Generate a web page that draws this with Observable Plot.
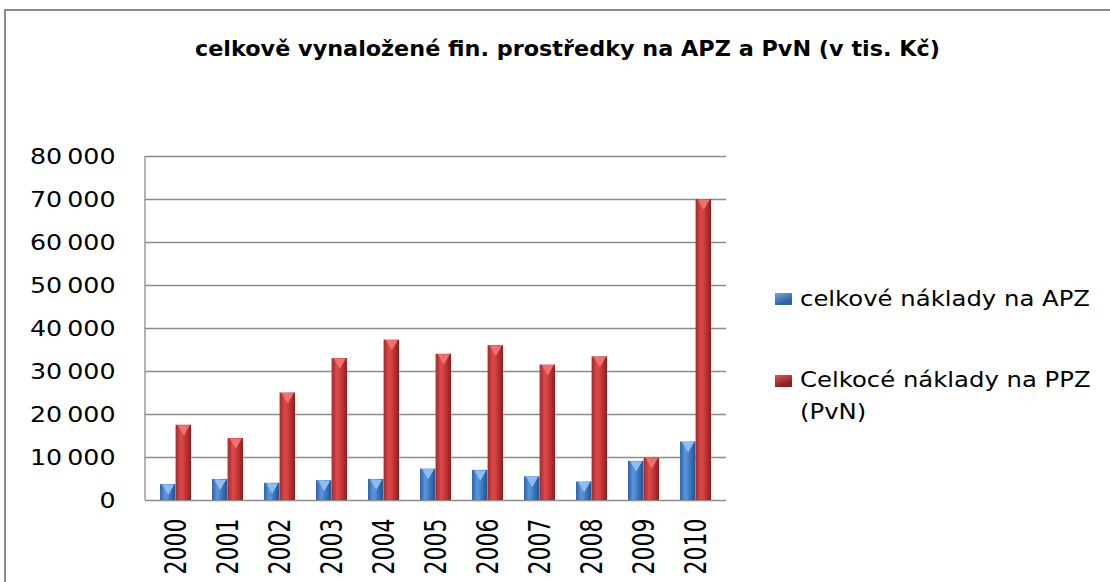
<!DOCTYPE html>
<html><head><meta charset="utf-8">
<script src="https://cdn.jsdelivr.net/npm/d3@7"></script>
<script src="https://cdn.jsdelivr.net/npm/@observablehq/plot@0.6"></script>
<style>
body{margin:0;background:#fff;}
#wrap{position:relative;width:1110px;height:582px;overflow:hidden;font-family:"DejaVu Sans",sans-serif;background:#fff;}
#frame{position:absolute;left:4px;top:9px;width:1200px;height:700px;border-left:2px solid #8a8a8a;border-top:2px solid #8a8a8a;box-sizing:border-box;}
#title{position:absolute;top:38px;left:195px;transform-origin:0 0;white-space:nowrap;font-family:"DejaVu Sans",sans-serif;font-weight:bold;font-size:22px;line-height:22px;color:#000;}
#chart{position:absolute;left:0;top:0;}
.sw{position:absolute;width:17px;height:12px;left:775px;}
.lt{position:absolute;left:800px;white-space:nowrap;font-size:22px;line-height:32px;color:#000;transform-origin:0 0;}
</style></head>
<body>
<div id="wrap">
  <div id="frame"></div>
  <div id="chart"></div>
  <div id="title">celkově vynaložené fin. prostředky na APZ a PvN (v tis. Kč)</div>
  <div id="legend"></div>
</div>
<script>
const years = ["2000","2001","2002","2003","2004","2005","2006","2007","2008","2009","2010"];
const apz = [3700, 4900, 4000, 4600, 4900, 7300, 7000, 5500, 4300, 9100, 13600];
const ppz = [17500, 14400, 25000, 33000, 37300, 34000, 36000, 31500, 33400, 9800, 70000];
const seriesNames = ["celkové náklady na APZ", "Celkocé náklady na PPZ\n(PvN)"];
const yTicks = [0, 10000, 20000, 30000, 40000, 50000, 60000, 70000, 80000];

const apzData = years.map((y, i) => ({year: y, value: apz[i]}));
const ppzData = years.map((y, i) => ({year: y, value: ppz[i]}));

const fmt = v => d3.format(",")(v).replace(/,/g, "\u202F");

const defs = () => {
  const s = d3.create("svg:defs");
  const mk = (id, stops) => {
    const g = s.append("linearGradient").attr("id", id).attr("x1", "0").attr("x2", "1").attr("y1", "0").attr("y2", "0");
    stops.forEach(([o, c]) => g.append("stop").attr("offset", o).attr("stop-color", c));
  };
  mk("gBlue", [[0, "#2f63a8"], [0.35, "#5b98dc"], [0.6, "#3f7cc6"], [1, "#24508c"]]);
  mk("gRed", [[0, "#a52828"], [0.35, "#de4a4a"], [0.6, "#c93838"], [1, "#8c1f1f"]]);
  return s.node();
};

const axisLine = (index, scales, values, dims) => {
  const s = d3.create("svg:line")
    .attr("x1", dims.marginLeft).attr("x2", dims.marginLeft)
    .attr("y1", scales.y(yTicks[yTicks.length - 1])).attr("y2", scales.y(0))
    .attr("stroke", "#8c8c8c").attr("stroke-width", 1.3);
  return s.node();
};

const chart = Plot.plot({
  width: 1110, height: 582,
  marginLeft: 145, marginRight: 384, marginTop: 156, marginBottom: 82,
  style: {fontFamily: "DejaVu Sans", fontSize: "22px", color: "#000", background: "transparent", overflow: "visible"},
  x: {domain: years, paddingInner: 0.41, paddingOuter: 0.205, label: null},
  y: {domain: [0, 80000], label: null},
  marks: [
    defs,
    Plot.gridY(yTicks, {stroke: "#8c8c8c", strokeOpacity: 1, strokeWidth: 1.3}),
    axisLine,
    Plot.barY(apzData, {x: "year", y: "value", fill: "url(#gBlue)", insetRight: 15.6}),
    Plot.barY(ppzData, {x: "year", y: "value", fill: "url(#gRed)", insetLeft: 15.6}),
    Plot.dot(apzData, {x: "year", y: "value", symbol: "triangle", rotate: 180, r: 4.5, fill: "#8cbcf0", dx: -7.8, dy: 3.5}),
    Plot.dot(ppzData, {x: "year", y: "value", symbol: "triangle", rotate: 180, r: 4.5, fill: "#f07070", dx: 7.8, dy: 3.5}),
    Plot.axisY(yTicks, {tickSize: 0, tickPadding: 30, tickFormat: fmt, fontSize: 22}),
    Plot.axisX({tickSize: 0, tickPadding: 18, tickRotate: -90, fontSize: 22})
  ]
});
document.getElementById("chart").appendChild(chart);

// horizontal stretch of the text, as in the reference
d3.select(chart).selectAll('g[aria-label="x-axis tick label"] text').each(function () {
  const t = this.getAttribute("transform");
  if (t && t.includes("translate")) this.setAttribute("transform", t + " scale(1,1.35)");
});
d3.select(chart).selectAll('g[aria-label="y-axis tick label"] text').each(function () {
  const t = this.getAttribute("transform");
  if (t && t.includes("translate")) this.setAttribute("transform", t + " scale(1.15,1)");
});

const title = document.getElementById("title");
const tw = title.getBoundingClientRect().width;
title.style.transform = `scaleX(${745 / tw})`;

const legend = document.getElementById("legend");
const swTops = [293, 375];
const txtTops = [283, 364];
const grads = ["linear-gradient(160deg,#6ea6e6,#2f63a8 70%)", "linear-gradient(160deg,#e05a5a,#8c1f1f 70%)"];
let legScale = null;
seriesNames.forEach((name, i) => {
  const sw = document.createElement("div");
  sw.className = "sw";
  sw.style.top = swTops[i] + "px";
  sw.style.background = grads[i];
  legend.appendChild(sw);
  const t = document.createElement("div");
  t.className = "lt";
  t.style.top = txtTops[i] + "px";
  t.innerHTML = name.split("\n").join("<br>");
  legend.appendChild(t);
  if (legScale === null) legScale = 290 / t.getBoundingClientRect().width;
  t.style.transform = `scaleX(${legScale})`;
});
</script>
</body></html>
